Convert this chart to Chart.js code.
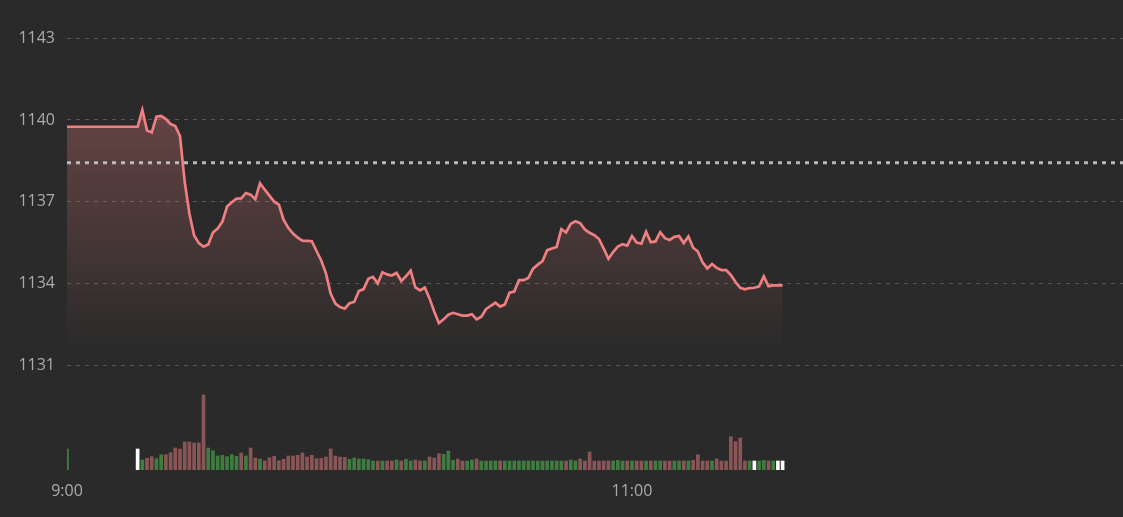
<!DOCTYPE html>
<html>
<head>
<meta charset="utf-8">
<script src="https://cdn.jsdelivr.net/npm/chart.js@4"></script>
<style>
    html, body { margin: 0; padding: 0; background: #2a2a2a; }
    #grafico-wrap { width: 1123px; height: 517px; }
</style>
</head>
<body>
<div id="grafico-wrap"><canvas id="grafico"></canvas></div>
<script>
const precoAnterior = 1138.43;
const ticksPreco = [1131, 1134, 1137, 1140, 1143];
const ticksHorario = ["9:00", "11:00"];
const ticksHorarioMinutos = [0, 120];

// one value per minute from 9:00
const precos = [
    1139.75, 1139.75, 1139.75, 1139.75, 1139.75, 1139.75, 1139.75, 1139.75, 1139.75, 1139.75,
    1139.75, 1139.75, 1139.75, 1139.75, 1139.75, 1139.75, 1140.37, 1139.61, 1139.54, 1140.12,
    1140.15, 1140.03, 1139.85, 1139.78, 1139.41, 1137.73, 1136.56, 1135.76, 1135.48, 1135.35,
    1135.43, 1135.87, 1136.01, 1136.27, 1136.82, 1136.98, 1137.11, 1137.12, 1137.32, 1137.26,
    1137.09, 1137.68, 1137.44, 1137.22, 1137.00, 1136.89, 1136.34, 1136.04, 1135.83, 1135.68,
    1135.57, 1135.56, 1135.55, 1135.19, 1134.84, 1134.37, 1133.63, 1133.26, 1133.13, 1133.07,
    1133.27, 1133.32, 1133.72, 1133.79, 1134.17, 1134.24, 1134.00, 1134.41, 1134.33, 1134.29,
    1134.39, 1134.09, 1134.26, 1134.47, 1133.85, 1133.74, 1133.85, 1133.45, 1132.97, 1132.54,
    1132.68, 1132.85, 1132.92, 1132.87, 1132.82, 1132.82, 1132.87, 1132.68, 1132.78, 1133.05,
    1133.18, 1133.29, 1133.15, 1133.23, 1133.66, 1133.70, 1134.12, 1134.12, 1134.20, 1134.54,
    1134.69, 1134.82, 1135.22, 1135.28, 1135.34, 1135.99, 1135.87, 1136.19, 1136.28, 1136.21,
    1135.98, 1135.86, 1135.77, 1135.63, 1135.28, 1134.90, 1135.15, 1135.35, 1135.44, 1135.39,
    1135.74, 1135.50, 1135.46, 1135.90, 1135.51, 1135.54, 1135.88, 1135.66, 1135.59, 1135.71,
    1135.74, 1135.48, 1135.72, 1135.31, 1135.17, 1134.77, 1134.55, 1134.71, 1134.57, 1134.49,
    1134.49, 1134.31, 1134.05, 1133.84, 1133.78, 1133.83, 1133.84, 1133.89, 1134.26, 1133.90,
    1133.93, 1133.93, 1133.93
];

const volumes = [
    210, null, null, null, null, null, null, null, null, null,
    null, null, null, null, null, 210, 100, 117, 133, 113,
    153, 153, 173, 220, 210, 280, 280, 270, 270, 750,
    220, 193, 140, 147, 133, 153, 137, 170, 140, 220,
    120, 110, 90, 123, 137, 93, 107, 140, 140, 147,
    170, 130, 147, 113, 117, 130, 210, 140, 130, 127,
    107, 120, 110, 110, 103, 90, 90, 90, 90, 90,
    100, 90, 107, 90, 100, 90, 90, 130, 120, 163,
    157, 190, 97, 110, 90, 90, 100, 110, 90, 90,
    90, 90, 90, 90, 90, 90, 90, 90, 90, 90,
    90, 90, 90, 90, 90, 90, 90, 100, 90, 110,
    90, 180, 90, 90, 90, 90, 90, 97, 90, 90,
    90, 90, 90, 90, 90, 90, 90, 90, 90, 90,
    90, 90, 90, 97, 153, 90, 90, 90, 110, 90,
    90, 333, 283, 320, 90, 90, 90, 90, 97, 90,
    90, 90, 90
];

// G = up, R = down, W = unchanged
const tonsVolume = (
    "G---------" + "-----WGRRG" + "GRRRRRRRRR" + "GGGGGGGRGR" + "RGRRRRRRRR" +
    "RRRRRRRRRR" + "GGGGGGRGRR" + "GRGGRRGRRR" + "GGGRRGGRGG" + "GGRGGGGGGG" +
    "GGGGGGRGGR" + "RRRRRRGGGR" + "GRRGRGGRRG" + "GRGRRRRGRR" + "RRRRRGWGGR" + "GWW"
).split("");

const corLinha = "#f07f82";
const coresVolume = { G: "#3f7c40", R: "#8a5557", W: "#ffffff", "-": "transparent" };

Chart.defaults.font.family = "'Open Sans', sans-serif";
Chart.defaults.font.size = 16;
Chart.defaults.color = "#ababab";

const pontosPreco = precos.map((p, i) => ({ x: i, y: p }));
const pontosVolume = volumes.map((v, i) => ({ x: i, y: v }));

function gradientePreco(context) {
    const { ctx, chartArea, scales } = context.chart;
    if (!chartArea) return null;
    const topo = scales.y.getPixelForValue(Math.max(...precos));
    const base = scales.y.getPixelForValue(1131.4);
    const g = ctx.createLinearGradient(0, topo, 0, base);
    g.addColorStop(0, "rgba(240,128,128,0.30)");
    g.addColorStop(1, "rgba(240,128,128,0)");
    return g;
}

new Chart(document.querySelector("#grafico"), {
    type: "line",
    data: {
        datasets: [
            {
                data: pontosPreco,
                borderColor: corLinha,
                borderWidth: 2.7,
                pointRadius: 0,
                fill: "start",
                backgroundColor: gradientePreco,
                yAxisID: "y"
            },
            {
                data: [{ x: 0, y: precoAnterior }, { x: 224.3, y: precoAnterior }],
                borderColor: "rgba(200,200,200,0.9)",
                borderWidth: 3,
                borderDash: [4, 5],
                pointRadius: 0,
                fill: false,
                yAxisID: "y"
            },
            {
                type: "bar",
                data: pontosVolume,
                backgroundColor: tonsVolume.map(t => coresVolume[t]),
                barThickness: 3,
                yAxisID: "yVol"
            }
        ]
    },
    options: {
        responsive: true,
        maintainAspectRatio: false,
        animation: false,
        layout: { padding: { top: 11, left: 0, right: 0, bottom: 0 } },
        plugins: {
            legend: { display: false },
            tooltip: { enabled: false },
            filler: { drawTime: "beforeDatasetsDraw" }
        },
        scales: {
            x: {
                type: "linear",
                offset: false,
                min: 0,
                max: 224.3,
                grid: { display: false },
                border: { display: false },
                afterBuildTicks: s => { s.ticks = ticksHorarioMinutos.map(v => ({ value: v })); },
                afterFit: s => { s.height = 47; s.paddingLeft = 0; s.paddingRight = 0; },
                ticks: {
                    padding: 4,
                    maxRotation: 0,
                    autoSkip: false,
                    callback: v => ticksHorario[ticksHorarioMinutos.indexOf(v)]
                }
            },
            y: {
                min: 1127.15,
                max: 1144,
                grid: { color: "#575757", drawTicks: false, lineWidth: 1 },
                border: { display: false, dash: [4, 5] },
                afterBuildTicks: s => { s.ticks = ticksPreco.map(v => ({ value: v })); },
                afterFit: s => { s.width = 67; s.paddingTop = 0; s.paddingBottom = 0; },
                ticks: { padding: 12, callback: v => String(v) }
            },
            yVol: {
                display: false,
                min: 0,
                max: 4590
            }
        }
    }
});
</script>
</body>
</html>
